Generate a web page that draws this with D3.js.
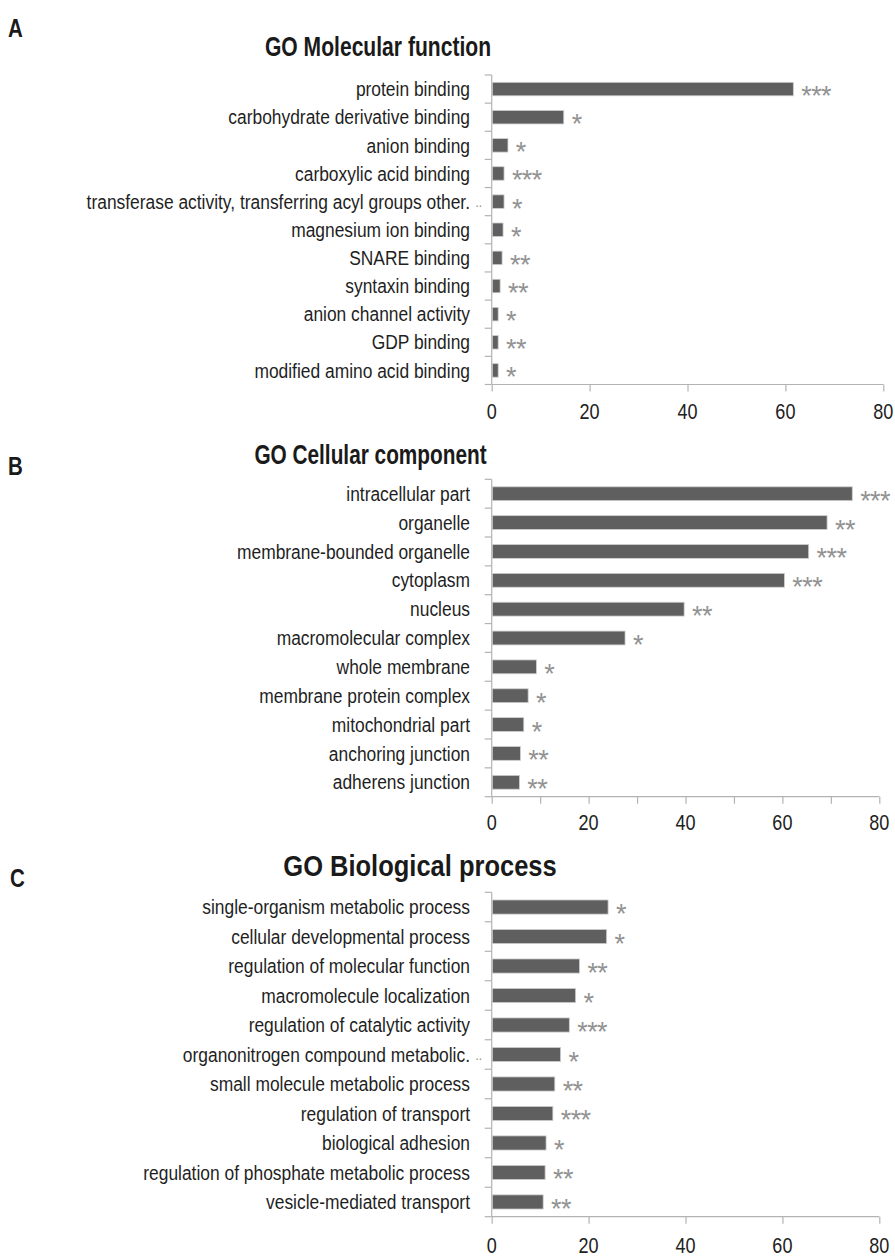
<!DOCTYPE html>
<html><head><meta charset="utf-8">
<script src="https://cdn.jsdelivr.net/npm/d3@7"></script>
<style>
body{margin:0;background:#fff;}
svg{display:block;}
text{font-family:"Liberation Sans",Arial,sans-serif;}
</style></head>
<body>
<svg id="chart" width="895" height="1257"></svg>
<script>
// ---- Data ----
const mfCategories = ["protein binding","carbohydrate derivative binding","anion binding","carboxylic acid binding","transferase activity, transferring acyl groups other. ..","magnesium ion binding","SNARE binding","syntaxin binding","anion channel activity","GDP binding","modified amino acid binding"];
const mfValues = [61.5,14.6,3.2,2.4,2.4,2.2,2.0,1.6,1.2,1.2,1.2];
const mfStars = ["***","*","*","***","*","*","**","**","*","**","*"];

const ccCategories = ["intracellular part","organelle","membrane-bounded organelle","cytoplasm","nucleus","macromolecular complex","whole membrane","membrane protein complex","mitochondrial part","anchoring junction","adherens junction"];
const ccValues = [74.3,69.1,65.3,60.3,39.6,27.4,9.1,7.4,6.5,5.8,5.6];
const ccStars = ["***","**","***","***","**","*","*","*","*","**","**"];

const bpCategories = ["single-organism metabolic process","cellular developmental process","regulation of molecular function","macromolecule localization","regulation of catalytic activity","organonitrogen compound metabolic. ..","small molecule metabolic process","regulation of transport","biological adhesion","regulation of phosphate metabolic process","vesicle-mediated transport"];
const bpValues = [23.9,23.6,18.0,17.2,15.9,14.1,12.9,12.5,11.1,10.9,10.5];
const bpStars = ["*","*","**","*","***","*","**","***","*","**","**"];

const xTickValues = [0,20,40,60,80];
const xMinorB = [0,10,20,30,40,50,60,70,80];
const panelLetters = ["A","B","C"];
const panelTitles = ["GO Molecular function","GO Cellular component","GO Biological process"];

// ---- Drawing ----
const svg = d3.select("#chart");
const axisColor = "#b3b3b3";

function ntext(g, x, y, str, o) {
  const t = g.append("text")
    .attr("transform", `translate(${x},${y}) scale(${o.sx || 0.82},1)`)
    .attr("font-size", o.size).attr("fill", o.fill || "#1f1f1f")
    .attr("text-anchor", o.anchor || "start")
    .text(str);
  if (o.bold) t.attr("font-weight", "bold");
  if (o.dy) t.attr("dy", o.dy);
  return t;
}

const panels = [
  {cats: mfCategories, vals: mfValues, stars: mfStars, letter: panelLetters[0], title: panelTitles[0],
   top: 75, bottom: 384.5, x0: 491.7, x1: 883.3, ticks: xTickValues,
   letterY: 37, letterX: 8, titleX: 378, titleY: 56, titleSize: 28.5, titleSx: 0.74, tickLabelY: 419},
  {cats: ccCategories, vals: ccValues, stars: ccStars, letter: panelLetters[1], title: panelTitles[1],
   top: 479.3, bottom: 796.7, x0: 491.7, x1: 879.3, ticks: xMinorB,
   letterY: 475, letterX: 8, titleX: 370.5, titleY: 464, titleSize: 28.5, titleSx: 0.73, tickLabelY: 830},
  {cats: bpCategories, vals: bpValues, stars: bpStars, letter: panelLetters[2], title: panelTitles[2],
   top: 892.3, bottom: 1216.7, x0: 491.7, x1: 879.3, ticks: xTickValues,
   letterY: 887, letterX: 10, titleX: 420, titleY: 876, titleSize: 30, titleSx: 0.85, tickLabelY: 1253}
];

panels.forEach(p => {
  const g = svg.append("g");
  const x = d3.scaleLinear().domain([0,80]).range([p.x0, p.x1]);
  const y = d3.scaleBand().domain(p.cats).range([p.top, p.bottom]).paddingInner(0.52).paddingOuter(0.26);
  const step = y.step();

  // letter & title
  ntext(g, p.letterX, p.letterY, p.letter, {size: 25, bold: true, fill: "#1a1a1a"});
  ntext(g, p.titleX, p.titleY, p.title, {size: p.titleSize, sx: p.titleSx, bold: true, fill: "#1a1a1a", anchor: "middle"});

  // y axis line + ticks at band boundaries
  g.append("line").attr("x1", p.x0).attr("x2", p.x0).attr("y1", p.top).attr("y2", p.bottom)
    .attr("stroke", axisColor).attr("stroke-width", 1.2);
  const bounds = d3.range(p.cats.length + 1).map(i => p.top + i * step);
  g.selectAll(".yt").data(bounds).join("line")
    .attr("x1", p.x0 - 7).attr("x2", p.x0).attr("y1", d => d).attr("y2", d => d)
    .attr("stroke", axisColor).attr("stroke-width", 1.2);

  // x axis
  const xAxis = d3.axisBottom(x).tickValues(p.ticks).tickSize(7).tickFormat("");
  const ax = g.append("g").attr("transform", `translate(0,${p.bottom})`).call(xAxis);
  ax.select(".domain").attr("stroke", axisColor).attr("stroke-width", 1.2).attr("d", `M${p.x0},0H${p.x1}`);
  ax.selectAll(".tick line").attr("stroke", axisColor).attr("stroke-width", 1.2);
  xTickValues.forEach(v => ntext(g, x(v), p.tickLabelY, String(v), {size: 22, fill: "#222", anchor: "middle"}));

  // labels
  p.cats.forEach((c, i) => {
    const cy = y(c) + y.bandwidth() / 2;
    const trunc = c.endsWith(" ..");
    const main = trunc ? c.slice(0, -3) : c;
    ntext(g, 470, cy, main, {size: 20, sx: 0.87, anchor: "end", dy: "0.36em"});
    if (trunc) ntext(g, 482, cy, "..", {size: 14, anchor: "end", dy: "0.36em", fill: "#888"});
  });

  // bars
  g.selectAll(".bar").data(p.vals).join("rect")
    .attr("x", x(0) + 0.6).attr("y", (d, i) => y(p.cats[i]))
    .attr("width", d => x(d) - x(0)).attr("height", y.bandwidth())
    .attr("fill", "#5f5f5f").attr("stroke", "#cfcfcf").attr("stroke-width", 0.8);

  // significance stars
  g.selectAll(".star").data(p.vals).join("text")
    .attr("x", d => x(d) + 8.5).attr("y", (d, i) => y(p.cats[i]) + y.bandwidth() / 2 + 16)
    .attr("font-size", 27).attr("letter-spacing", -0.6).attr("fill", "#929292")
    .text((d, i) => p.stars[i]);
});
</script>
</body></html>
